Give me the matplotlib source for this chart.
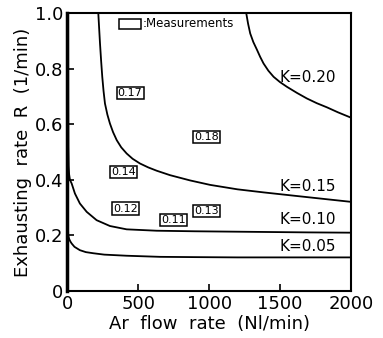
import matplotlib
matplotlib.use("Agg")
import matplotlib.pyplot as plt

# Curves (Q in Nl/min, R in 1/min)
k005_q = [4, 6, 12, 20, 30, 50, 88, 130, 182, 260, 418, 654, 900, 1200, 1600, 2000]
k005_r = [0.23, 0.20, 0.188, 0.179, 0.171, 0.159, 0.147, 0.140, 0.136, 0.131, 0.127, 0.123, 0.122, 0.121, 0.121, 0.121]

k010_q = [5, 6, 7, 9, 12, 18, 30, 53, 88, 136, 206, 300, 418, 630, 900, 1300, 1700, 2000]
k010_r = [1.0, 0.70, 0.52, 0.45, 0.42, 0.40, 0.387, 0.351, 0.315, 0.285, 0.255, 0.234, 0.222, 0.217, 0.215, 0.213, 0.211, 0.210]

k015_q = [218, 224, 230, 238, 246, 255, 265, 282, 300, 322, 348, 380, 418, 460, 512, 570, 630, 724, 866, 1007, 1200, 1384, 1600, 1800, 2000]
k015_r = [1.0, 0.945, 0.891, 0.828, 0.771, 0.72, 0.675, 0.635, 0.603, 0.572, 0.543, 0.517, 0.495, 0.476, 0.459, 0.445, 0.433, 0.417, 0.398, 0.382, 0.366, 0.355, 0.343, 0.332, 0.321]

k020_q = [1262, 1275, 1290, 1312, 1337, 1360, 1384, 1418, 1455, 1500, 1549, 1620, 1690, 1760, 1832, 1910, 1996, 2000]
k020_r = [1.0, 0.962, 0.927, 0.896, 0.869, 0.843, 0.819, 0.793, 0.771, 0.752, 0.735, 0.713, 0.693, 0.676, 0.661, 0.643, 0.625, 0.624]

curve_labels = ["K=0.05", "K=0.10", "K=0.15", "K=0.20"]
curve_label_y = [0.162, 0.259, 0.377, 0.769]

meas_labels = ["0.17", "0.18", "0.14", "0.12", "0.11", "0.13"]
meas_q = [442, 984, 399, 411, 748, 984]
meas_r = [0.713, 0.555, 0.429, 0.297, 0.255, 0.289]

xticks = [0, 500, 1000, 1500, 2000]
yticks = [0, 0.2, 0.4, 0.6, 0.8, 1.0]
ytick_labels = ["0", "0.2", "0.4", "0.6", "0.8", "1.0"]

fig = plt.figure(figsize=(3.83, 3.38), dpi=100)
ax = fig.add_axes([0.176, 0.139, 0.740, 0.822])

for q, r in [(k005_q, k005_r), (k010_q, k010_r), (k015_q, k015_r), (k020_q, k020_r)]:
    ax.plot(q, r, color="black", lw=1.3, solid_joinstyle="round")

for lab, y in zip(curve_labels, curve_label_y):
    ax.text(1500, y, lab, fontsize=11, va="center", ha="left")

for lab, q, r in zip(meas_labels, meas_q, meas_r):
    ax.text(q, r, lab, fontsize=8, ha="center", va="center",
            bbox=dict(boxstyle="square,pad=0.1", fc="white", ec="black", lw=1.1))

# legend-like box
ax.add_patch(plt.Rectangle((364, 0.942), 156, 0.036, fill=False, ec="black", lw=1.1))
ax.text(530, 0.962, ":Measurements", fontsize=8.5, ha="left", va="center")

ax.set_xlim(0, 2000)
ax.set_ylim(0, 1.0)
ax.set_xticks(xticks)
ax.set_yticks(yticks)
ax.set_yticklabels(ytick_labels)
ax.tick_params(direction="in", labelsize=13, length=5, width=1.2, pad=3)
for s in ax.spines.values():
    s.set_linewidth(1.5)
ax.spines["left"].set_linewidth(2.5)

ax.set_xlabel("Ar  flow  rate  (Nl/min)", fontsize=13, labelpad=1)
ax.set_ylabel("Exhausting  rate  R  (1/min)", fontsize=13, labelpad=2)

fig.savefig("out.png", dpi=100)
